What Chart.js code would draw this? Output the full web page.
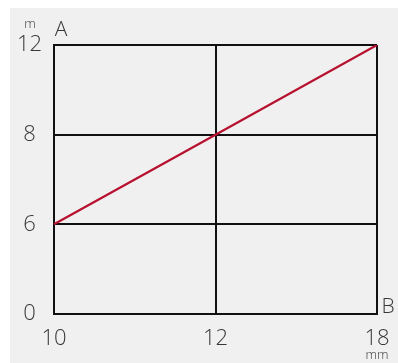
<!DOCTYPE html>
<html>
<head>
<meta charset="utf-8">
<script src="https://cdn.jsdelivr.net/npm/chart.js@4"></script>
<style>
  html, body { margin: 0; padding: 0; background: #ffffff; }
  #wrap { width: 398px; height: 363px; }
</style>
</head>
<body>
<div id="wrap"><canvas id="lineChart" width="398" height="363"></canvas></div>
<script>
// 데이터
const xTicks = ['10', '12', '18'];      // 가로축 (mm)
const yTicks = [0, 6, 8, 12];           // 세로축 (m), 같은 간격으로 표시
const values = [6, 8, 12];              // A-B 선

const textColor = '#383838';
const fontFamily = '"Open Sans", "Noto Sans", sans-serif';

// 회색 배경
const bgPlugin = {
    id: 'bg',
    beforeDraw(chart) {
        const c = chart.ctx;
        c.save();
        c.fillStyle = '#f0f0f0';
        c.fillRect(10, 8, chart.width - 10, chart.height - 8);
        c.restore();
    }
};

// 단위와 A, B 표시
const notePlugin = {
    id: 'notes',
    afterDraw(chart) {
        const c = chart.ctx;
        const a = chart.chartArea;
        c.save();
        c.fillStyle = textColor;
        c.textAlign = 'center';
        c.textBaseline = 'middle';
        c.font = '300 13px ' + fontFamily;
        c.fillText('m', a.left - 24, a.top - 21);
        c.fillText('mm', a.right, a.bottom + 41);
        c.font = '300 21px ' + fontFamily;
        c.fillText('A', a.left + 7, a.top - 15);
        c.fillText('B', a.right + 11, a.bottom - 7);
        c.restore();
    }
};

const ctx = document.getElementById('lineChart').getContext('2d');
new Chart(ctx, {
    type: 'line',
    data: {
        labels: xTicks,
        datasets: [{
            data: values.map(v => yTicks.indexOf(v)),
            borderColor: '#b8102f',
            borderWidth: 2.2,
            pointRadius: 0,
            fill: false,
            tension: 0
        }]
    },
    options: {
        responsive: false,
        animation: false,
        layout: { padding: { left: 0, top: 45, right: 21, bottom: 0 } },
        plugins: { legend: { display: false }, tooltip: { enabled: false } },
        scales: {
            x: {
                type: 'category',
                offset: false,
                grid: { color: '#111111', lineWidth: 2, drawTicks: false },
                border: { color: '#111111', width: 2 },
                ticks: {
                    color: textColor,
                    padding: 12,
                    maxRotation: 0,
                    font: { family: fontFamily, size: 22, weight: '300' }
                },
                afterFit: s => { s.height = 49; s.paddingLeft = 0; s.paddingRight = 0; }
            },
            y: {
                type: 'linear',
                min: 0,
                max: yTicks.length - 1,
                grid: { color: '#111111', lineWidth: 2, drawTicks: false },
                border: { color: '#111111', width: 2 },
                afterBuildTicks: s => { s.ticks = yTicks.map((t, i) => ({ value: i })); },
                ticks: {
                    color: textColor,
                    padding: 12,
                    crossAlign: 'center',
                    callback: v => yTicks[v],
                    font: { family: fontFamily, size: 22, weight: '300' }
                },
                afterFit: s => { s.width = 54; s.paddingTop = 0; s.paddingBottom = 0; }
            }
        }
    },
    plugins: [bgPlugin, notePlugin]
});
</script>
</body>
</html>
